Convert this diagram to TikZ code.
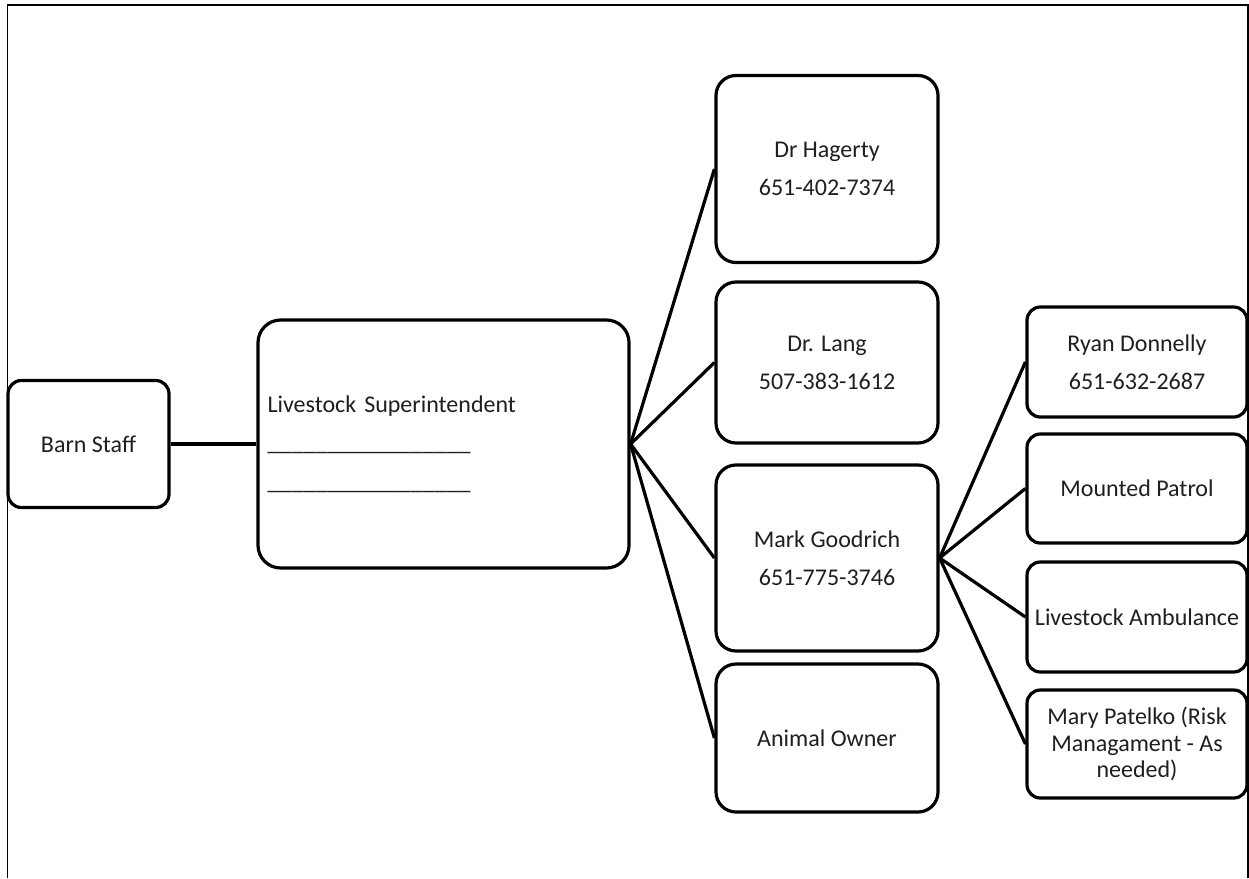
\documentclass[tikz,border=0pt]{standalone}
\usepackage{fontspec}
\setmainfont{Carlito}
\newcommand\myblank{\textunderscore\textunderscore\textunderscore\textunderscore\textunderscore\textunderscore\textunderscore\textunderscore\textunderscore\textunderscore\textunderscore\textunderscore\textunderscore\textunderscore\textunderscore\textunderscore\textunderscore}
\tikzset{
  box/.style={draw=black, line width=2.4pt, fill=white, rounded corners=#1,
    inner sep=2pt, align=center, text=black!88, font=\fontsize{18}{28.5}\selectfont},
  box/.default=10pt,
  conn/.style={draw=black, line width=2.4pt},
  frame/.style={draw=black, line width=1.3pt}
}
\begin{document}
\begin{tikzpicture}[x=0.75pt,y=-0.75pt]
\useasboundingbox (0,0) rectangle (1249,878);
\draw[frame] (7.5,878) -- (7.5,5) -- (1248,5) -- (1248,878);

\node[box=10pt, minimum width=120.75pt, minimum height=95.25pt] (barn) at (88.5,444) {Barn Staff};
\node[box=17pt, minimum width=278.25pt, minimum height=186pt, align=left,
      text width=264pt, inner xsep=6pt, font=\fontsize{18}{29}\selectfont] (sup) at (443.5,444)
      {Livestock Superintendent\\ \myblank\\ \myblank};

\node[box=15pt, minimum width=166.5pt, minimum height=140.25pt] (hag) at (827,169) {Dr Hagerty\\651-402-7374};
\node[box=15pt, minimum width=166.5pt, minimum height=120.75pt] (lang) at (827,362.5) {Dr. Lang\\507-383-1612};
\node[box=15pt, minimum width=166.5pt, minimum height=139.5pt] (mark) at (827,558) {Mark Goodrich\\651-775-3746};
\node[box=15pt, minimum width=166.5pt, minimum height=111pt] (owner) at (827,738) {Animal Owner};

\node[box=10pt, minimum width=165pt, minimum height=82.5pt] (ryan) at (1137,362) {Ryan Donnelly\\651-632-2687};
\node[box=10pt, minimum width=165pt, minimum height=81.75pt] (patrol) at (1137,488.5) {Mounted Patrol};
\node[box=10pt, minimum width=165pt, minimum height=82.5pt] (amb) at (1137,617) {Livestock Ambulance};
\node[box=10pt, minimum width=165pt, minimum height=81pt, font=\fontsize{18}{20}\selectfont] (mary) at (1137,744) {Mary Patelko (Risk\\Managament - As\\needed)};

\draw[conn] (barn.east) -- (sup.west);
\draw[conn] (sup.east) -- (hag.west);
\draw[conn] (sup.east) -- (lang.west);
\draw[conn] (sup.east) -- (mark.west);
\draw[conn] (sup.east) -- (owner.west);
\draw[conn] (mark.east) -- (ryan.west);
\draw[conn] (mark.east) -- (patrol.west);
\draw[conn] (mark.east) -- (amb.west);
\draw[conn] (mark.east) -- (mary.west);
\end{tikzpicture}
\end{document}
